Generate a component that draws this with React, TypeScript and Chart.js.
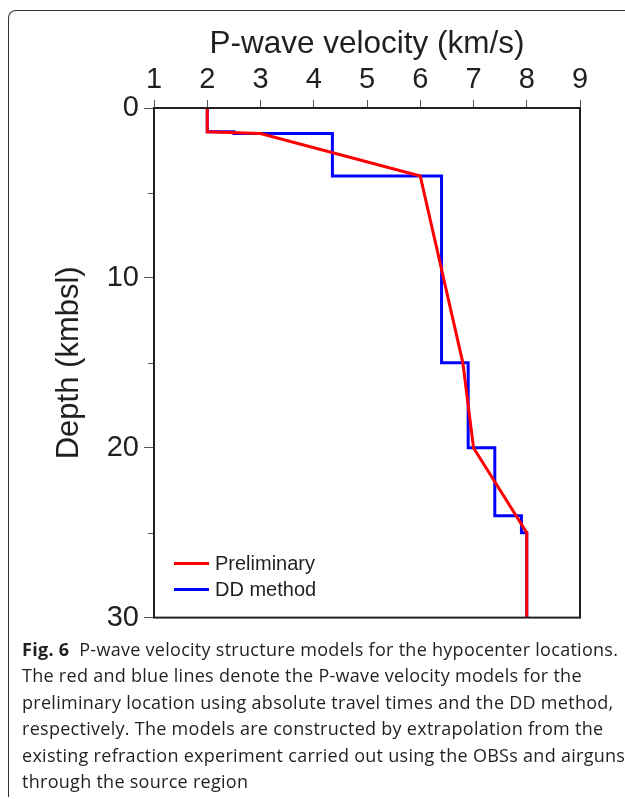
import React, { useEffect, useRef } from "react";
import { Chart, registerables } from "chart.js";

Chart.register(...registerables);

const preliminaryVelocity = [2, 2, 3, 6, 6.8, 7, 8, 8];
const preliminaryDepth = [0, 1.4, 1.5, 4, 15, 20, 25, 30];
const ddVelocity = [2, 2, 2.5, 2.5, 4.35, 4.35, 6.4, 6.4, 6.9, 6.9, 7.4, 7.4, 7.9, 7.9, 8, 8];
const ddDepth = [0, 1.4, 1.4, 1.5, 1.5, 4, 4, 15, 15, 20, 20, 24, 24, 25, 25, 30];
const seriesLabels = ["Preliminary", "DD method"];
const seriesColors = ["#ff0000", "#0000ff"];
const minorDepthTicks = [5, 15, 25];
const xTitle = "P-wave velocity (km/s)";
const yTitle = "Depth (kmbsl)";
const captionLines = [
  "P-wave velocity structure models for the hypocenter locations.",
  "The red and blue lines denote the P-wave velocity models for the",
  "preliminary location using absolute travel times and the DD method,",
  "respectively. The models are constructed by extrapolation from the",
  "existing refraction experiment carried out using the OBSs and airguns",
  "through the source region",
];

const FONT = "'Liberation Sans', Arial, sans-serif";
const INK = "#231f20";

const frameAndLegend = {
  id: "frameAndLegend",
  afterDatasetsDraw(chart: any) {
    const { ctx, chartArea } = chart;
    const y = chart.scales.y;
    ctx.save();
    // minor ticks
    ctx.strokeStyle = "#555";
    ctx.lineWidth = 1;
    minorDepthTicks.forEach((d) => {
      const py = Math.round(y.getPixelForValue(d)) + 0.5;
      ctx.beginPath();
      ctx.moveTo(chartArea.left - 6, py);
      ctx.lineTo(chartArea.left, py);
      ctx.stroke();
    });
    // box
    ctx.strokeStyle = INK;
    ctx.lineWidth = 2;
    ctx.strokeRect(chartArea.left, chartArea.top, chartArea.right - chartArea.left, chartArea.bottom - chartArea.top);
    // legend
    ctx.font = `20px ${FONT}`;
    ctx.textBaseline = "middle";
    ctx.fillStyle = INK;
    chart.data.datasets.forEach((ds: any, i: number) => {
      const ly = chartArea.bottom - 54 + i * 26;
      ctx.strokeStyle = ds.borderColor;
      ctx.lineWidth = 3;
      ctx.beginPath();
      ctx.moveTo(chartArea.left + 20, ly);
      ctx.lineTo(chartArea.left + 55, ly);
      ctx.stroke();
      ctx.fillText(ds.label, chartArea.left + 61, ly + 1);
    });
    ctx.restore();
  },
};

function VelocityChart() {
  const ref = useRef<HTMLCanvasElement | null>(null);
  useEffect(() => {
    if (!ref.current) return;
    const chart = new Chart(ref.current, {
      type: "scatter",
      data: {
        datasets: [
          {
            label: seriesLabels[0],
            data: preliminaryVelocity.map((v, i) => ({ x: v, y: preliminaryDepth[i] })),
            borderColor: seriesColors[0],
            backgroundColor: seriesColors[0],
            borderWidth: 3,
            showLine: true,
            pointRadius: 0,
            tension: 0,
          },
          {
            label: seriesLabels[1],
            data: ddVelocity.map((v, i) => ({ x: v, y: ddDepth[i] })),
            borderColor: seriesColors[1],
            backgroundColor: seriesColors[1],
            borderWidth: 3,
            showLine: true,
            pointRadius: 0,
            tension: 0,
          },
        ],
      },
      options: {
        animation: false,
        responsive: false,
        devicePixelRatio: 1,
        layout: { padding: { left: 0, right: 45, top: 0, bottom: 21 } },
        plugins: { legend: { display: false }, tooltip: { enabled: false } },
        scales: {
          x: {
            type: "linear",
            position: "top",
            min: 1,
            max: 9,
            ticks: { stepSize: 1, color: INK, font: { family: FONT, size: 29 }, padding: 3, maxRotation: 0 },
            grid: { drawOnChartArea: false, drawTicks: true, tickLength: 8, color: "#555" },
            border: { display: false },
            title: { display: true, text: xTitle, color: INK, font: { family: FONT, size: 31.5 }, padding: { top: 25, bottom: 0 } },
            afterFit: (s: any) => { s.height = 108; },
          },
          y: {
            type: "linear",
            reverse: true,
            min: 0,
            max: 30,
            ticks: { stepSize: 10, color: INK, font: { family: FONT, size: 29 }, padding: 5 },
            grid: { drawOnChartArea: false, drawTicks: true, tickLength: 10, color: "#555" },
            border: { display: false },
            title: { display: true, text: yTitle, color: INK, font: { family: FONT, size: 31 }, padding: { top: 51, bottom: 0 } },
            afterFit: (s: any) => { s.width = 154; },
          },
        },
      },
      plugins: [frameAndLegend],
    });
    return () => chart.destroy();
  }, []);
  return <canvas ref={ref} width={625} height={640} style={{ position: "absolute", left: 0, top: 0, width: 625, height: 640 }} />;
}

export default function App() {
  useEffect(() => {
    document.body.style.margin = "0";
  }, []);
  return (
    <div style={{ position: "relative", width: 625, height: 799, overflow: "hidden", background: "#fff" }}>
      <div
        style={{
          position: "absolute",
          left: 8,
          top: 10,
          width: 700,
          height: 787,
          border: "1px solid #333",
          borderBottom: "none",
          borderTopLeftRadius: 8,
          boxSizing: "border-box",
        }}
      />
      <VelocityChart />
      <div
        style={{
          position: "absolute",
          left: 22,
          top: 636,
          fontFamily: "'Open Sans', 'Noto Sans', sans-serif",
          fontSize: 18,
          letterSpacing: "0.28px",
          lineHeight: "26.4px",
          color: INK,
          whiteSpace: "nowrap",
        }}
      >
        {captionLines.map((line, i) => (
          <div key={i}>
            {i === 0 ? <b>Fig. 6</b> : null}
            {i === 0 ? "\u00a0 " : null}
            {line}
          </div>
        ))}
      </div>
    </div>
  );
}
